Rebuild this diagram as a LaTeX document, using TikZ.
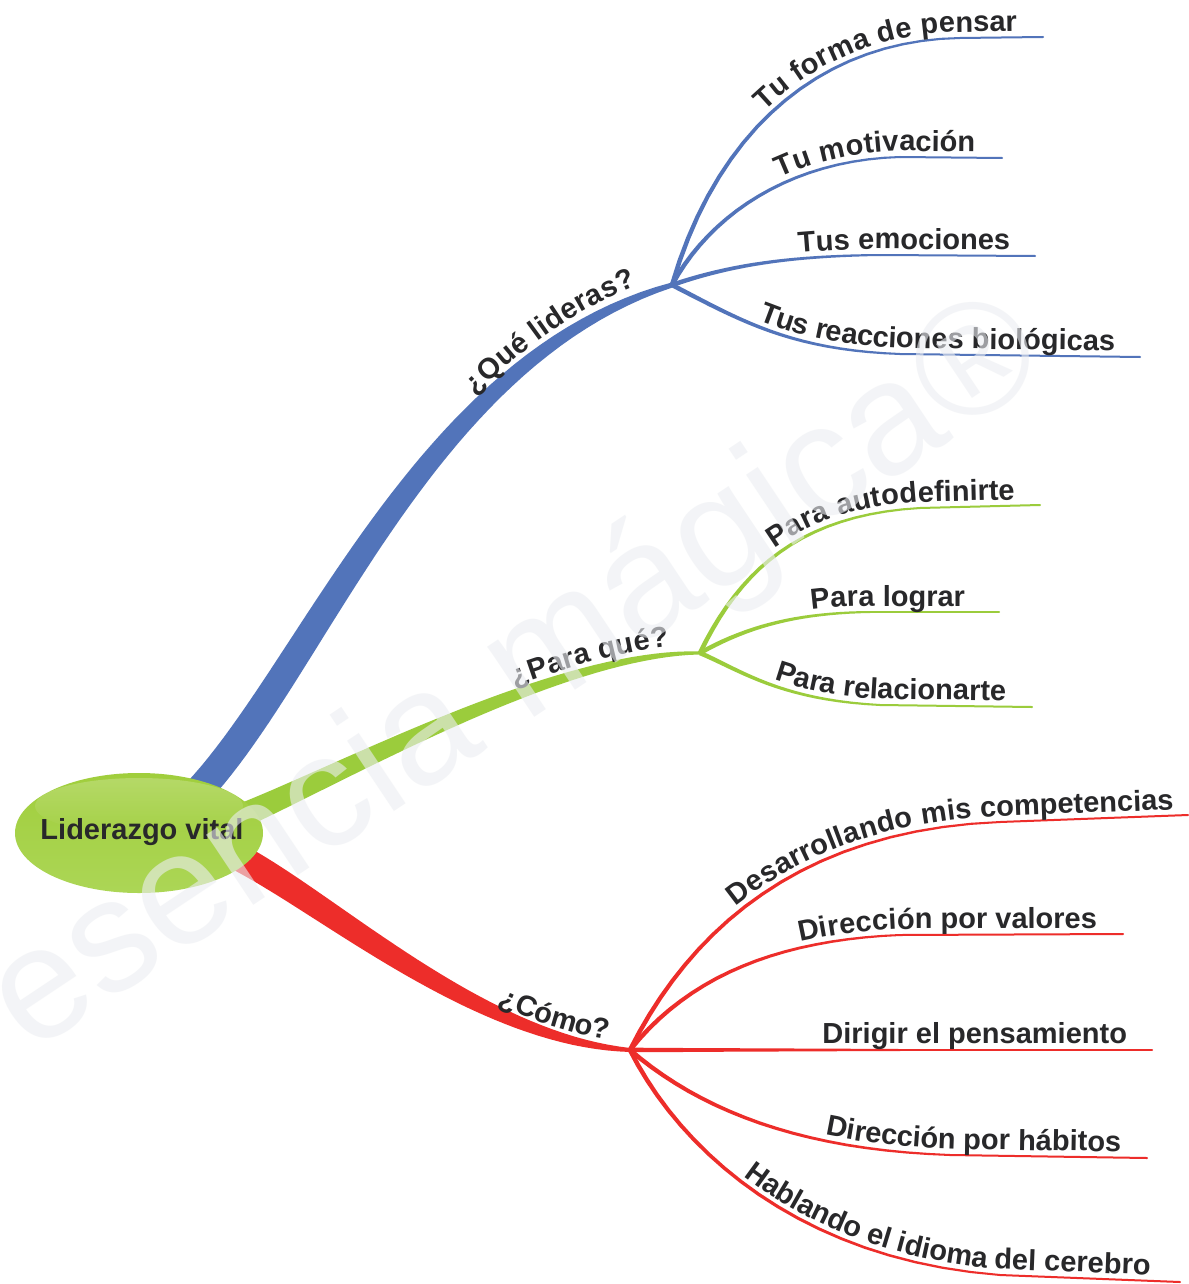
\documentclass[tikz,border=0pt]{standalone}
\usepackage{fontspec}
\setmainfont{Liberation Sans}
\usetikzlibrary{decorations.text,shapes.geometric}
\definecolor{bluec}{RGB}{82,116,186}
\definecolor{greenc}{RGB}{155,204,60}
\definecolor{redc}{RGB}{237,45,42}
\definecolor{txt}{RGB}{40,40,42}
\definecolor{wm}{RGB}{236,238,242}
\newcommand\lblfont{\fontsize{29}{34}\selectfont\bfseries}
\def\setcurve(#1,#2)(#3,#4)(#5,#6)(#7,#8){\def\cAx{#1}\def\cAy{#2}\def\cBx{#3}\def\cBy{#4}\def\cCx{#5}\def\cCy{#6}\def\cDx{#7}\def\cDy{#8}}
\newcommand\taper[6]{%
  \foreach \k in {0,...,#5}{%
    \pgfmathsetmacro\tqT{\k/#5}%
    \pgfmathsetmacro\tqS{1-\tqT}%
    \pgfmathsetmacro\tqX{\tqS*\tqS*\tqS*\cAx+3*\tqS*\tqS*\tqT*\cBx+3*\tqS*\tqT*\tqT*\cCx+\tqT*\tqT*\tqT*\cDx}%
    \pgfmathsetmacro\tqY{\tqS*\tqS*\tqS*\cAy+3*\tqS*\tqS*\tqT*\cBy+3*\tqS*\tqT*\tqT*\cCy+\tqT*\tqT*\tqT*\cDy}%
    \pgfmathsetmacro\tqDX{(\tqS*\tqS*(\cBx-\cAx)+2*\tqS*\tqT*(\cCx-\cBx)+\tqT*\tqT*(\cDx-\cCx))/100}%
    \pgfmathsetmacro\tqDY{(\tqS*\tqS*(\cBy-\cAy)+2*\tqS*\tqT*(\cCy-\cBy)+\tqT*\tqT*(\cDy-\cCy))/100}%
    \pgfmathsetmacro\tqL{sqrt(\tqDX*\tqDX+\tqDY*\tqDY)}%
    \pgfmathsetmacro\tqW{#3+(#2-#3)*(1-max(\tqT,0.001)^#4)}%
    \coordinate (#1L\k) at ({\tqX-\tqW*\tqDY/\tqL},{\tqY+\tqW*\tqDX/\tqL});%
    \coordinate (#1R\k) at ({\tqX+\tqW*\tqDY/\tqL},{\tqY-\tqW*\tqDX/\tqL});%
  }%
  \fill[#6] (#1L0) \foreach \k in {1,...,#5}{ -- (#1L\k)} \foreach \k in {#5,...,0}{ -- (#1R\k)} -- cycle;%
}
\begin{document}
\begin{tikzpicture}[x=1pt,y=-1pt,
  lbl/.style n args={3}{decorate, decoration={text along path, text={|\lblfont|#1},
     text align={right, right indent=#2}, raise=#3, text color=txt}},
  tail/.style={line width=2pt, line cap=round}]
\fill[white] (0,0) rectangle (1188,1284);
\useasboundingbox (0,0) rectangle (1188,1284);

% hubs
\coordinate (qh) at (672,285);
\coordinate (ph) at (700,653);
\coordinate (ch) at (630,1050);
\coordinate (qb) at (190,800);
\coordinate (pb) at (232,820);
\coordinate (cb) at (238,857);

% main branches
\setcurve(190,800)(310,680)(420,360)(672,285)
\taper{mq}{14.5}{2.5}{2}{48}{bluec}
\setcurve(232,820)(340,775)(560,652)(700,653)
\taper{mp}{12.5}{1.5}{1}{40}{greenc}
\setcurve(238,857)(330,905)(480,1040)(630,1050)
\taper{mc}{13.5}{2}{1.6}{40}{redc}

% central node
\shade[top color={rgb,255:red,160;green,206;blue,60},
  middle color={rgb,255:red,140;green,193;blue,44},
  bottom color={rgb,255:red,172;green,214;blue,86}]
  (139,833) ellipse [x radius=124, y radius=60];
\shade[top color=white, bottom color={rgb,255:red,160;green,206;blue,60}, opacity=0.22]
  (139,806) ellipse [x radius=104, y radius=28];
\node[font=\lblfont, text=txt, inner sep=0pt] (root) at (142,832) {Liderazgo vital};

% main labels
\path[lbl={¿Qué lideras?}{33pt}{11pt}] (qb) .. controls (310,680) and (420,360) .. (qh);
\path[lbl={¿Para qué?}{30pt}{8pt}] (pb) .. controls (340,775) and (560,652) .. (ph);
\path[lbl={¿Cómo?}{24pt}{8pt}] (cb) .. controls (330,905) and (480,1040) .. (ch);

% ---- blue sub-branches
\coordinate (tfA) at (960,38);  \coordinate (tfB) at (1043,37);
\setcurve(672,285)(720,120)(830,40)(960,38)
\taper{tf}{2.3}{1.0}{1}{20}{bluec}
\draw[bluec, tail] (tfA) -- (tfB);
\path[lbl={Tu forma de pensar}{26pt}{6pt}] (qh) .. controls (720,120) and (830,40) .. (tfA) -- (tfB);

\coordinate (tmA) at (900,157); \coordinate (tmB) at (1002,158);
\setcurve(672,285)(710,215)(790,160)(900,157)
\taper{tm}{2.3}{1.0}{1}{20}{bluec}
\draw[bluec, tail] (tmA) -- (tmB);
\path[lbl={Tu motivación}{27pt}{6pt}] (qh) .. controls (710,215) and (790,160) .. (tmA) -- (tmB);

\coordinate (teA) at (880,255); \coordinate (teB) at (1035,256);
\setcurve(672,285)(730,265)(790,256)(880,255)
\taper{te}{2.3}{1.0}{1}{20}{bluec}
\draw[bluec, tail] (teA) -- (teB);
\path[lbl={Tus emociones}{25pt}{6pt}] (qh) .. controls (730,265) and (790,256) .. (teA) -- (teB);

\coordinate (trA) at (900,354); \coordinate (trB) at (1140,357);
\setcurve(672,285)(740,320)(790,350)(900,354)
\taper{tr}{2.3}{1.0}{1}{20}{bluec}
\draw[bluec, tail] (trA) -- (trB);
\path[lbl={Tus reacciones biológicas}{25pt}{6pt}] (qh) .. controls (740,320) and (790,350) .. (trA) -- (trB);

% ---- green sub-branches
\coordinate (paA) at (920,508); \coordinate (paB) at (1040,505);
\setcurve(700,653)(740,570)(800,515)(920,508)
\taper{pa}{2.3}{1.0}{1}{20}{greenc}
\draw[greenc, tail] (paA) -- (paB);
\path[lbl={Para autodefinirte}{25pt}{6pt}] (ph) .. controls (740,570) and (800,515) .. (paA) -- (paB);

\coordinate (plA) at (870,612); \coordinate (plB) at (999,612);
\setcurve(700,653)(750,625)(800,613)(870,612)
\taper{pl}{2.3}{1.0}{1}{20}{greenc}
\draw[greenc, tail] (plA) -- (plB);
\path[lbl={Para lograr}{34pt}{6pt}] (ph) .. controls (750,625) and (800,613) .. (plA) -- (plB);

\coordinate (prA) at (880,705); \coordinate (prB) at (1032,707);
\setcurve(700,653)(740,670)(780,700)(880,705)
\taper{pr}{2.3}{1.0}{1}{20}{greenc}
\draw[greenc, tail] (prA) -- (prB);
\path[lbl={Para relacionarte}{26pt}{6pt}] (ph) .. controls (740,670) and (780,700) .. (prA) -- (prB);

% ---- red sub-branches
\coordinate (dcA) at (1000,822); \coordinate (dcB) at (1188,815);
\setcurve(630,1050)(690,930)(800,830)(1000,822)
\taper{dc}{2.3}{1.0}{1}{20}{redc}
\draw[redc, tail] (dcA) -- (dcB);
\path[lbl={Desarrollando mis competencias}{14pt}{6pt}] (ch) .. controls (690,930) and (800,830) .. (dcA) -- (dcB);

\coordinate (dvA) at (900,935); \coordinate (dvB) at (1123,934);
\setcurve(630,1050)(690,975)(780,940)(900,935)
\taper{dv}{2.3}{1.0}{1}{20}{redc}
\draw[redc, tail] (dvA) -- (dvB);
\path[lbl={Dirección por valores}{26pt}{6pt}] (ch) .. controls (690,975) and (780,940) .. (dvA) -- (dvB);

\coordinate (dpA) at (900,1050); \coordinate (dpB) at (1152,1050);
\setcurve(630,1050)(700,1050)(800,1050)(900,1050)
\taper{dp}{2.3}{1.0}{1}{20}{redc}
\draw[redc, tail] (dpA) -- (dpB);
\path[lbl={Dirigir el pensamiento}{25pt}{7pt}] (ch) -- (dpA) -- (dpB);

\coordinate (dhA) at (950,1155); \coordinate (dhB) at (1147,1158);
\setcurve(630,1050)(700,1110)(800,1150)(950,1155)
\taper{dh}{2.3}{1.0}{1}{20}{redc}
\draw[redc, tail] (dhA) -- (dhB);
\path[lbl={Dirección por hábitos}{26pt}{6pt}] (ch) .. controls (700,1110) and (800,1150) .. (dhA) -- (dhB);

\coordinate (hiA) at (1000,1275); \coordinate (hiB) at (1180,1282);
\setcurve(630,1050)(680,1150)(800,1260)(1000,1275)
\taper{hi}{2.3}{1.0}{1}{20}{redc}
\draw[redc, tail] (hiA) -- (hiB);
\path[lbl={Hablando el idioma del cerebro}{30pt}{6pt}] (ch) .. controls (680,1150) and (800,1260) .. (hiA) -- (hiB);

% watermark
\node[rotate=33.7, text=wm, text opacity=0.6, font=\fontsize{160}{165}\selectfont, inner sep=0pt] (wmk) at (518,678) {esencia mágica®};
\end{tikzpicture}
\end{document}
